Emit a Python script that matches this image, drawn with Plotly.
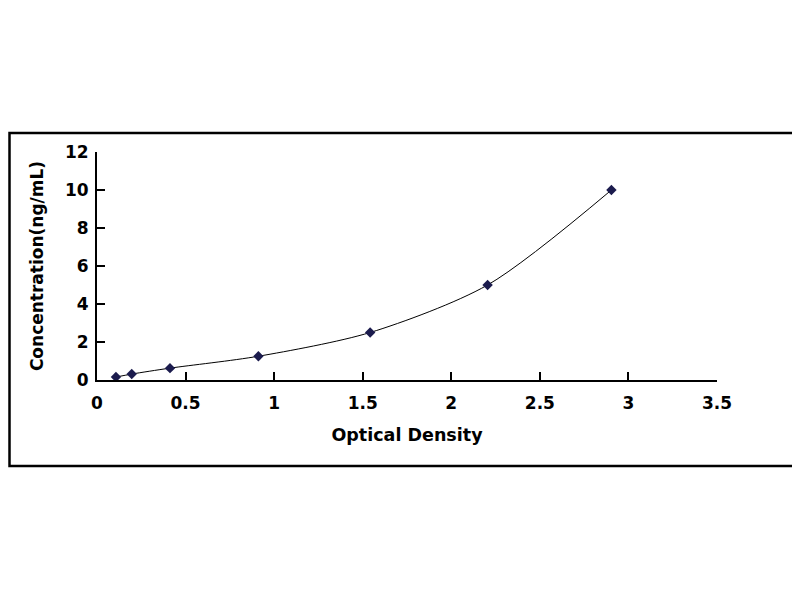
import plotly.graph_objects as go

# standard curve: optical density vs concentration
od = [0.107, 0.196, 0.412, 0.911, 1.542, 2.205, 2.904]
conc = [0.156, 0.312, 0.625, 1.25, 2.5, 5.0, 10.0]

font = "DejaVu Sans, Arial, sans-serif"

fig = go.Figure()
fig.add_trace(go.Scatter(
    x=od, y=conc,
    mode="lines+markers",
    line=dict(color="black", width=1, shape="spline", smoothing=0.8),
    marker=dict(symbol="diamond", size=8, color="#1b1b4d"),
    showlegend=False,
))

fig.update_xaxes(
    range=[0, 3.5], dtick=0.5, showgrid=False, zeroline=False,
    showline=True, linecolor="black", linewidth=2,
    ticks="inside", ticklen=8, tickwidth=2, tickcolor="black",
    tickfont=dict(family=font, size=17, color="black", weight="bold"),
    ticklabelstandoff=7,
    title=dict(text="<b>Optical Density</b>", standoff=16,
               font=dict(family=font, size=17.5, color="black")),
)
fig.update_yaxes(
    range=[0, 12], dtick=2, showgrid=False, zeroline=False,
    showline=True, linecolor="black", linewidth=2,
    ticks="inside", ticklen=8, tickwidth=2, tickcolor="black",
    tickfont=dict(family=font, size=17, color="black", weight="bold"),
    ticklabelstandoff=3,
    title=dict(text="<b>Concentration(ng/mL)</b>", standoff=17,
               font=dict(family=font, size=17, color="black")),
)

# outer frame around the chart (page has an 8px body margin)
fig.add_shape(type="rect", xref="paper", yref="paper",
              x0=(1.5 - 89) / 620, x1=(790 - 89) / 620,
              y0=(372 - 458) / 228, y1=(372 - 125) / 228,
              line=dict(color="black", width=2.5))

fig.update_layout(
    width=800, height=600,
    margin=dict(l=89, r=91, t=144, b=228),
    paper_bgcolor="white", plot_bgcolor="white",
)

fig.write_html("out.html")
